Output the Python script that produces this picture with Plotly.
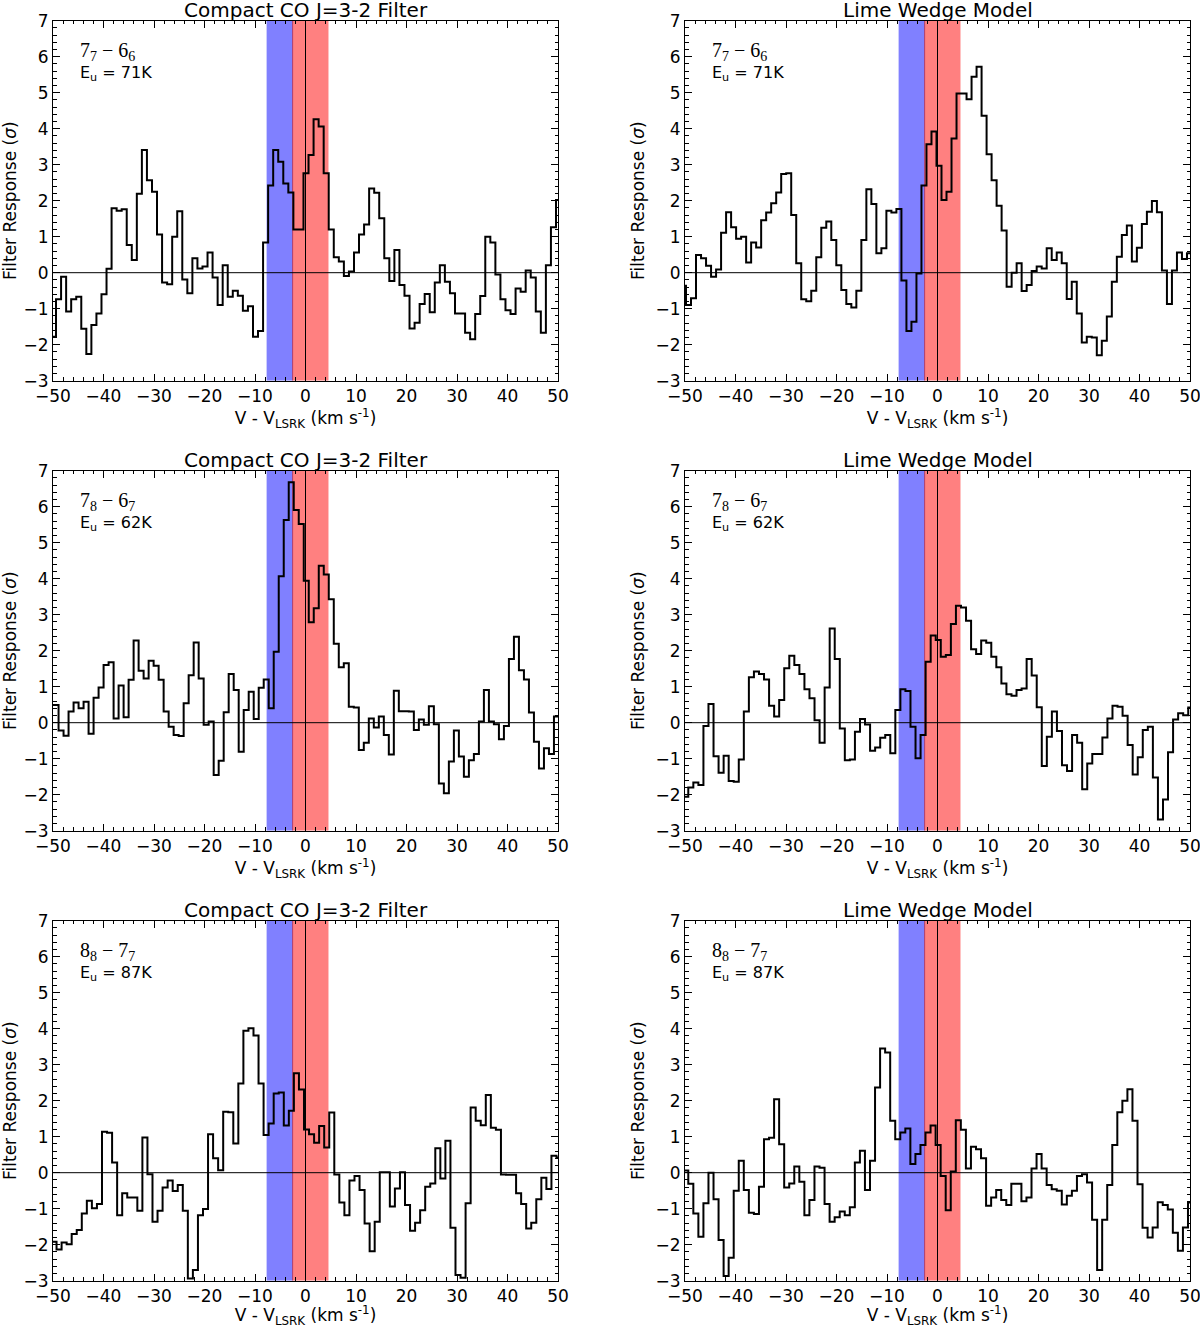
import numpy as np
import plotly.graph_objects as go
from plotly.subplots import make_subplots

WIDTH = 1200
HEIGHT = 1328
FONT = "DejaVu Sans"
MATH_FONT = "Liberation Serif"

TITLES = ["Compact CO J=3-2 Filter", "Lime Wedge Model"]
X_AXIS_TITLE = "V - V<sub>LSRK</sub> (km s<sup>-1</sup>)"
Y_AXIS_TITLE = "Filter Response (<i>σ</i>)"
TRANSITIONS = [
    "7<sub>7</sub> − 6<sub>6</sub>",
    "7<sub>8</sub> − 6<sub>7</sub>",
    "8<sub>8</sub> − 7<sub>7</sub>",
]
UPPER_ENERGIES = [71, 62, 87]

X_RANGE = [-50, 50]
Y_RANGE = [-3, 7]
BLUE_BAND = [-7.7, -2.55]
RED_BAND = [-2.55, 4.55]
BLUE_COLOR = "rgb(128,128,255)"
RED_COLOR = "rgb(255,128,128)"

# first and last inner channel edge (km/s) of each spectrum
filter_77_edges = [-49.4, 49.6]
filter_77 = [
    -1.78, -0.74, -0.11, -1.08, -0.74, -0.67, -1.56, -2.26, -1.45, -1.13,
    -0.60, 0.11, 1.79, 1.72, 1.76, 0.77, 0.35, 2.19, 3.41, 2.57,
    2.25, 1.06, -0.27, -0.32, 1.00, 1.71, -0.19, -0.57, 0.40, 0.12,
    0.17, 0.56, -0.13, -0.90, 0.21, -0.67, -0.50, -0.64, -1.06, -0.93,
    -1.78, -1.62, 0.84, 2.42, 3.41, 3.08, 2.48, 2.23, 1.20, 1.20,
    2.76, 3.27, 4.26, 4.06, 2.76, 1.20, 0.43, 0.31, -0.09, 0.03,
    0.56, 1.06, 1.34, 2.34, 2.22, 1.51, 0.40, -0.23, 0.63, -0.34,
    -0.64, -1.55, -1.39, -0.87, -0.59, -1.10, -0.27, 0.21, -0.25, -0.57,
    -1.13, -1.13, -1.67, -1.85, -1.15, -0.65, 1.00, 0.84, -0.05, -0.74,
    -1.04, -1.15, -0.44, -0.53, 0.06, -0.13, -1.08, -1.67, 0.21, 1.26,
    2.02,
]

model_77_edges = [-49.8, 49.4]
model_77 = [
    -0.36, -0.90, -0.71, 0.49, 0.40, 0.19, -0.11, 0.09, 1.11, 1.68,
    1.26, 0.94, 1.00, 0.28, 0.84, 0.70, 1.46, 1.67, 1.93, 2.23,
    2.74, 2.76, 1.60, 0.26, -0.74, -0.79, -0.50, 0.43, 1.25, 1.42,
    0.91, 0.21, -0.48, -0.87, -0.97, -0.50, 0.91, 2.32, 1.91, 0.54,
    0.68, 1.72, 1.67, 1.77, -0.22, -1.62, -1.36, -0.02, 2.42, 3.57,
    3.92, 2.97, 2.02, 2.25, 3.73, 4.98, 4.98, 4.82, 5.44, 5.72,
    4.36, 3.29, 2.57, 1.86, 1.17, -0.39, 0.00, 0.26, -0.51, -0.34,
    0.05, 0.17, 0.12, 0.68, 0.35, 0.56, 0.26, -0.73, -0.25, -1.13,
    -1.94, -1.78, -1.80, -2.29, -1.89, -1.22, -0.25, 0.44, 1.05, 1.31,
    0.31, 0.69, 1.35, 1.69, 1.99, 1.68, 0.06, -0.87, 0.06, 0.56,
    0.38, 0.54,
]

filter_78_edges = [-48.9, 49.2]
filter_78 = [
    0.49, -0.22, -0.36, 0.31, 0.56, 0.40, 0.58, -0.31, 0.69, 0.98,
    1.60, 1.68, 0.12, 1.03, 0.15, 1.19, 2.28, 1.44, 1.23, 1.72,
    1.58, 1.19, 0.31, -0.11, -0.34, -0.37, 0.54, 1.32, 2.23, 1.23,
    -0.06, 0.03, -1.45, -1.06, 0.29, 1.35, 0.91, -0.81, 0.35, 0.86,
    0.10, 0.97, 1.20, 0.40, 1.97, 4.07, 5.63, 6.68, 5.91, 5.52,
    3.94, 2.79, 3.18, 4.36, 4.12, 3.43, 2.19, 1.54, 1.65, 0.44,
    0.42, -0.76, -0.56, 0.12, -0.13, 0.17, -0.34, -0.88, 0.89, 0.32,
    0.32, 0.31, -0.20, 0.09, -0.06, 0.46, -0.04, -1.69, -1.96, -1.08,
    -0.22, -0.94, -1.50, -1.04, -0.87, 0.03, 0.91, 0.03, -0.04, -0.46,
    -0.09, 1.77, 2.39, 1.46, 1.20, 0.28, -0.53, -1.27, -0.71, -0.87,
    0.17,
]

model_78_edges = [-49.35, 49.65]
model_78 = [
    -2.06, -1.80, -1.66, -1.73, -0.09, 0.52, -0.93, -1.39, -0.92, -1.62,
    -1.64, -1.02, 0.31, 1.26, 1.42, 1.35, 1.20, 0.47, 0.17, 0.63,
    1.51, 1.86, 1.60, 1.35, 0.93, 0.68, 0.07, -0.56, 0.98, 2.62,
    1.77, -0.16, -1.04, -1.02, -0.25, 0.10, -0.05, -0.78, -0.69, -0.42,
    -0.34, -0.85, 0.35, 0.93, 0.88, -0.11, -0.99, -0.34, 1.69, 2.42,
    2.30, 1.83, 1.88, 2.74, 3.25, 3.20, 2.83, 2.04, 1.91, 2.28,
    2.22, 1.83, 1.54, 1.09, 0.79, 0.75, 0.91, 0.95, 1.77, 1.31,
    0.43, -1.20, -0.39, 0.31, -0.23, -1.18, -1.34, -0.34, -0.56, -1.85,
    -1.13, -0.87, -0.87, -0.41, 0.12, 0.47, 0.44, 0.19, -0.62, -1.44,
    -0.96, -0.20, -0.11, -1.52, -2.69, -2.13, -0.82, 0.09, 0.26, 0.21,
    0.42,
]

filter_88_edges = [-49.3, 49.7]
filter_88 = [
    -1.92, -2.13, -1.94, -1.99, -1.70, -1.59, -1.13, -0.78, -0.99, -0.87,
    1.14, 1.11, 0.28, -1.18, -0.57, -0.69, -0.69, -1.06, 0.98, -0.04,
    -1.36, -1.06, -0.41, -0.22, -0.51, -0.34, -1.06, -2.94, -2.70, -1.18,
    -1.01, 1.07, 0.40, 0.07, 1.69, 1.68, 0.81, 2.48, 3.94, 4.01,
    3.81, 2.48, 1.05, 1.37, 2.20, 2.23, 1.31, 1.72, 2.76, 2.31,
    1.20, 1.07, 0.83, 1.30, 0.70, 1.67, -0.05, -0.83, -1.18, -0.22,
    -0.09, -0.48, -1.41, -2.18, -1.36, 0.01, 0.01, -0.94, -0.44, 0.01,
    -0.90, -1.61, -1.39, -1.04, -0.39, -0.30, 0.68, -0.16, 0.89, -1.53,
    -2.84, -2.92, -0.85, 1.81, 1.44, 1.32, 2.16, 1.25, 1.19, -0.05,
    -0.06, -0.06, -0.57, -0.87, -1.55, -1.39, -0.74, -0.14, -0.45, 0.47,
    0.42,
]

model_88_edges = [-49.35, 49.6]
model_88 = [
    0.06, -0.31, -1.13, -1.78, -0.85, 0.00, -0.74, -1.87, -2.87, -2.36,
    -0.50, 0.33, -0.48, -1.11, -1.15, -0.39, 0.93, 0.97, 2.04, 0.79,
    -0.41, -0.30, 0.17, -0.25, -1.18, -0.76, 0.17, 0.14, -0.87, -1.36,
    -1.24, -1.08, -1.18, -0.96, 0.28, 0.61, -0.48, 0.33, 2.37, 3.45,
    3.34, 1.44, 0.93, 1.12, 1.23, 0.24, 0.52, 0.77, 1.12, 1.31,
    0.77, -0.09, -1.04, 0.03, 1.46, 1.19, 0.12, 0.72, 0.65, 0.40,
    -0.92, -0.69, -0.48, -0.76, -0.90, -0.31, -0.31, -0.79, -0.69, 0.12,
    0.52, 0.12, -0.34, -0.46, -0.50, -0.88, -0.64, -0.50, -0.09, -0.04,
    -0.27, -1.31, -2.70, -1.31, -0.34, 0.77, 1.68, 2.00, 2.32, 1.44,
    -0.32, -1.53, -1.80, -1.52, -0.82, -0.90, -1.02, -1.67, -2.17, -1.52,
    -0.83,
]

spectra = [
    [(filter_77, filter_77_edges), (model_77, model_77_edges)],
    [(filter_78, filter_78_edges), (model_78, model_78_edges)],
    [(filter_88, filter_88_edges), (model_88, model_88_edges)],
]

# panel placement in pixels of the 1200x1328 page
COLUMN_PX = [(53, 558), (685, 1190)]
ROW_PX = [(20.7, 380.7), (470.7, 830.7), (920.7, 1280.7)]


def step_xy(values, edges):
    inner = np.linspace(edges[0], edges[1], len(values) - 1)
    x = np.concatenate([[X_RANGE[0]], inner, [X_RANGE[1]]])
    y = list(values) + [values[-1]]
    return x, y


fig = make_subplots(rows=3, cols=2)

for row_index, row_spectra in enumerate(spectra):
    row = row_index + 1
    top_px, bottom_px = ROW_PX[row_index]
    y_domain = [1 - bottom_px / HEIGHT, 1 - top_px / HEIGHT]
    for col_index, (values, edges) in enumerate(row_spectra):
        col = col_index + 1
        left_px, right_px = COLUMN_PX[col_index]
        x_domain = [left_px / WIDTH, right_px / WIDTH]

        for band, color in [(BLUE_BAND, BLUE_COLOR), (RED_BAND, RED_COLOR)]:
            fig.add_shape(
                type="rect",
                x0=band[0],
                x1=band[1],
                y0=Y_RANGE[0],
                y1=Y_RANGE[1],
                fillcolor=color,
                line_width=0,
                layer="below",
                row=row,
                col=col,
            )
        fig.add_shape(
            type="line",
            x0=RED_BAND[0],
            x1=RED_BAND[0],
            y0=Y_RANGE[0],
            y1=Y_RANGE[1],
            line={"color": "rgb(170,60,110)", "width": 1},
            layer="below",
            row=row,
            col=col,
        )
        fig.add_shape(
            type="line",
            x0=0,
            x1=0,
            y0=Y_RANGE[0],
            y1=Y_RANGE[1],
            line={"color": "black", "width": 1},
            layer="below",
            row=row,
            col=col,
        )
        fig.add_shape(
            type="line",
            x0=X_RANGE[0],
            x1=X_RANGE[1],
            y0=0,
            y1=0,
            line={"color": "black", "width": 1},
            layer="below",
            row=row,
            col=col,
        )

        x_values, y_values = step_xy(values, edges)
        fig.add_trace(
            go.Scatter(
                x=x_values,
                y=y_values,
                mode="lines",
                line={"color": "black", "width": 2, "shape": "hv"},
                showlegend=False,
                hoverinfo="skip",
            ),
            row=row,
            col=col,
        )

        fig.update_xaxes(
            domain=x_domain,
            automargin=False,
            range=X_RANGE,
            tick0=0,
            dtick=10,
            ticks="inside",
            ticklen=7,
            tickcolor="black",
            minor={"dtick": 2, "ticks": "inside", "ticklen": 3.5, "tickcolor": "black"},
            showline=True,
            linecolor="black",
            linewidth=1,
            mirror="allticks",
            showgrid=False,
            zeroline=False,
            ticklabeloverflow="allow",
            tickfont={"size": 17, "color": "black"},
            title={"text": X_AXIS_TITLE, "standoff": 4, "font": {"size": 17}},
            row=row,
            col=col,
        )
        fig.update_yaxes(
            domain=y_domain,
            automargin=False,
            range=Y_RANGE,
            tick0=0,
            dtick=1,
            ticks="inside",
            ticklen=7,
            tickcolor="black",
            minor={"dtick": 0.2, "ticks": "inside", "ticklen": 3.5, "tickcolor": "black"},
            showline=True,
            linecolor="black",
            linewidth=1,
            mirror="allticks",
            showgrid=False,
            zeroline=False,
            ticklabeloverflow="allow",
            tickfont={"size": 17, "color": "black"},
            title={"text": Y_AXIS_TITLE, "standoff": 6, "font": {"size": 17}},
            row=row,
            col=col,
        )

        axis_number = row_index * 2 + col
        x_ref = "x" if axis_number == 1 else f"x{axis_number}"
        y_ref = "y" if axis_number == 1 else f"y{axis_number}"
        fig.add_annotation(
            x=(x_domain[0] + x_domain[1]) / 2,
            y=y_domain[1],
            xref="paper",
            yref="paper",
            text=TITLES[col_index],
            showarrow=False,
            xanchor="center",
            yanchor="bottom",
            yshift=-3,
            font={"size": 20, "color": "black"},
        )
        label = (
            f"<span style='font-family:{MATH_FONT}; font-size:20px'>"
            f"{TRANSITIONS[row_index]}</span><br>"
            f"E<sub>u</sub> = {UPPER_ENERGIES[row_index]}K"
        )
        fig.add_annotation(
            x=-45,
            y=6.55,
            xref=x_ref,
            yref=y_ref,
            text=label,
            showarrow=False,
            xanchor="left",
            yanchor="top",
            align="left",
            font={"size": 16, "color": "black"},
        )

fig.update_layout(
    width=WIDTH,
    height=HEIGHT,
    margin={"l": 0, "r": 0, "t": 0, "b": 0},
    plot_bgcolor="white",
    paper_bgcolor="white",
    font={"family": FONT, "color": "black", "size": 16},
    showlegend=False,
)

# drop the default page margin so the figure fills the window
fig.write_html(
    "out.html",
    config={"displayModeBar": False},
    post_script="document.body.style.margin = '0';",
)
